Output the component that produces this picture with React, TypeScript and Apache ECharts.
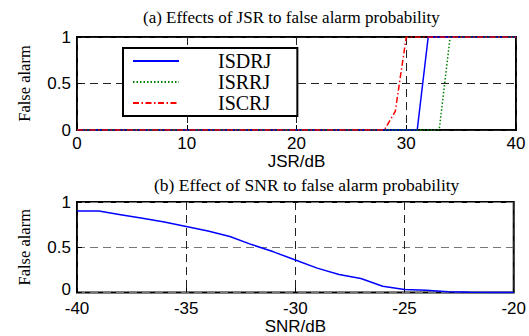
import React, { useEffect, useRef } from "react";
import * as echarts from "echarts";

const jsr = [0,1,2,3,4,5,6,7,8,9,10,11,12,13,14,15,16,17,18,19,20,21,22,23,24,25,26,27,28,29,30,31,32,33,34,35,36,37,38,39,40];
const isdrj = [0,0,0,0,0,0,0,0,0,0,0,0,0,0,0,0,0,0,0,0,0,0,0,0,0,0,0,0,0,0,0,0,1,1,1,1,1,1,1,1,1];
const isrrj = [0,0,0,0,0,0,0,0,0,0,0,0,0,0,0,0,0,0,0,0,0,0,0,0,0,0,0,0,0,0,0,0,0,0,1,1,1,1,1,1,1];
const iscrj = [0,0,0,0,0,0,0,0,0,0,0,0,0,0,0,0,0,0,0,0,0,0,0,0,0,0,0,0,0,0.2,1,1,1,1,1,1,1,1,1,1,1];

const snr = [-40,-39,-38,-37,-36,-35,-34,-33,-32,-31,-30,-29,-28,-27,-26,-25,-24,-23,-22,-21,-20];
const pfa = [0.9,0.9,0.86,0.82,0.78,0.73,0.68,0.62,0.53,0.45,0.36,0.27,0.2,0.155,0.07,0.035,0.025,0.01,0.005,0.002,0];

const seriesNames = ["ISDRJ", "ISRRJ", "ISCRJ"];
const titleA = "(a) Effects of JSR to false alarm probability";
const titleB = "(b) Effect of SNR to false alarm probability";

const serif = "Liberation Serif";
const sans = "Liberation Sans";

function pairs(xs: number[], ys: number[]) {
  return xs.map((x, i) => [x, ys[i]]);
}

export default function App() {
  const ref = useRef<HTMLDivElement>(null);
  useEffect(() => {
    if (!ref.current) return;
    const chart = echarts.init(ref.current, undefined, { renderer: "svg" });
    const axisLabel = { fontFamily: sans, fontSize: 17, lineHeight: 14, color: "#000" };
    const mkX = (gi: number, min: number, max: number, interval: number, name: string, gap: number, margin: number) => ({
      type: "value", gridIndex: gi, min, max, interval,
      name, nameLocation: "middle", nameGap: gap,
      nameTextStyle: { fontFamily: sans, fontSize: 17, color: "#000" },
      axisLine: { show: false },
      axisTick: { show: true, inside: true, length: 5, lineStyle: { color: "#000" } },
      axisLabel: { ...axisLabel, margin },
      splitLine: { show: true, lineStyle: { color: "#222", type: [8, 5], width: 1 } },
    });
    const mkY = (gi: number, hColor: string, lowShift: number) => ({
      type: "value", gridIndex: gi, min: 0, max: 1, interval: 0.5,
      name: "False alarm", nameLocation: "middle", nameRotate: 90, nameGap: 44,
      nameTextStyle: { fontFamily: serif, fontSize: 16.5, color: "#000" },
      axisLine: { show: false },
      axisTick: { show: true, inside: true, length: 5, lineStyle: { color: "#000" } },
      axisLabel: {
        ...axisLabel, margin: 6,
        formatter: (v: number) => (v === 0 ? "{low|" + v + "}" : String(v)),
        rich: { low: { fontFamily: sans, fontSize: 17, lineHeight: 14, color: "#000", padding: [0, 0, lowShift, 0] } },
      },
      splitLine: { show: true, lineStyle: { color: hColor, type: [8, 5], width: 1 } },
    });
    chart.setOption({
      animation: false,
      backgroundColor: "#fff",
      title: [
        { text: titleA, left: 143, top: 9, padding: 0,
          textStyle: { fontFamily: serif, fontSize: 17, fontWeight: "normal", color: "#000" } },
        { text: titleB, left: 154, top: 176, padding: 0,
          textStyle: { fontFamily: serif, fontSize: 17.5, fontWeight: "normal", color: "#000" } },
      ],
      grid: [
        { left: 77, top: 37, width: 439, height: 93, show: true, borderColor: "#000", borderWidth: 2, backgroundColor: "transparent" },
        { left: 77, top: 202, width: 439, height: 92, show: true, borderColor: "#000", borderWidth: 2, backgroundColor: "transparent" },
      ],
      xAxis: [mkX(0, 0, 40, 10, "JSR/dB", 23, 6), mkX(1, -40, -20, 5, "SNR/dB", 25, 9)],
      yAxis: [mkY(0, "#222", 0), mkY(1, "#777", 6)],
      legend: {
        data: seriesNames,
        orient: "vertical", left: 123, top: 48,
        backgroundColor: "#fff", borderColor: "#000", borderWidth: 2,
        padding: [3, 26, 3, 9],
        itemWidth: 46, itemHeight: 14, itemGap: 1,
        itemStyle: { opacity: 0 },
        textStyle: { fontFamily: serif, fontSize: 20, color: "#000", padding: [0, 0, 0, 34] },
        z: 10,
      },
      series: [
        { name: seriesNames[0], type: "line", xAxisIndex: 0, yAxisIndex: 0, symbol: "none",
          data: pairs(jsr, isdrj), lineStyle: { color: "#0000ff", width: 1.5 }, itemStyle: { color: "#0000ff" }, z: 3 },
        { name: seriesNames[1], type: "line", xAxisIndex: 0, yAxisIndex: 0, symbol: "none",
          data: pairs(jsr, isrrj), lineStyle: { color: "#008000", width: 1.5, type: [1.5, 2] }, itemStyle: { color: "#008000" }, z: 3 },
        { name: seriesNames[2], type: "line", xAxisIndex: 0, yAxisIndex: 0, symbol: "none",
          data: pairs(jsr, iscrj), lineStyle: { color: "#ff0000", width: 1.5, type: [6, 2.5, 1.5, 2.5] }, itemStyle: { color: "#ff0000" }, z: 3 },
        { name: "SNR", type: "line", xAxisIndex: 1, yAxisIndex: 1, symbol: "none",
          data: pairs(snr, pfa), lineStyle: { color: "#0000ff", width: 1.5 }, itemStyle: { color: "#0000ff" } },
      ],
    });
    return () => chart.dispose();
  }, []);
  return <div ref={ref} style={{ position: "absolute", left: 0, top: 0, width: 529, height: 336 }} />;
}
